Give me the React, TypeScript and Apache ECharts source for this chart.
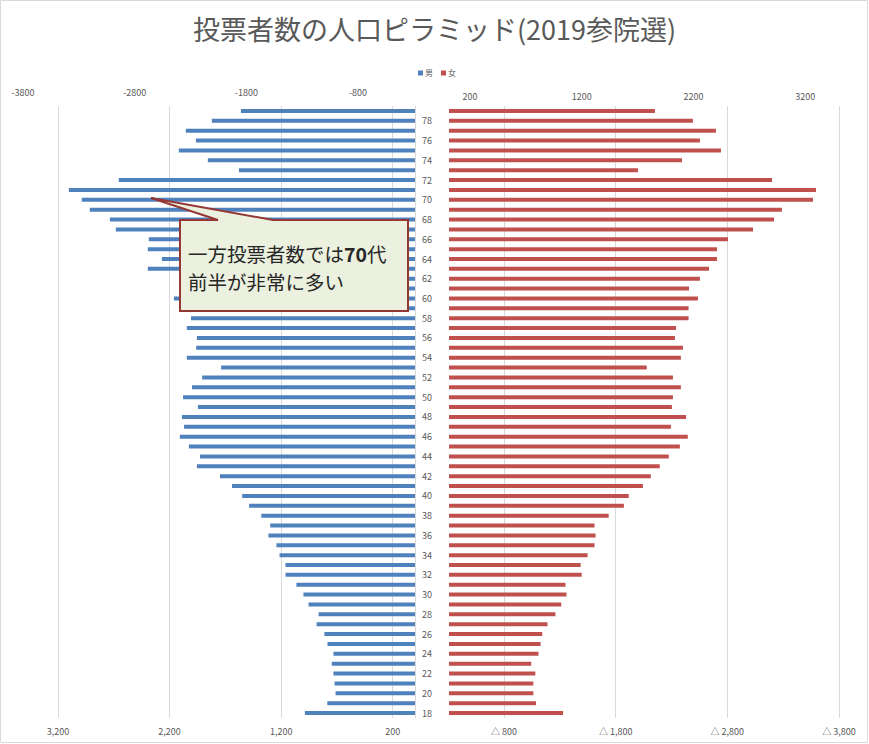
import React, { useEffect, useRef } from 'react';
import * as echarts from 'echarts';

const FONT = '"Noto Sans CJK JP", "Noto Sans", sans-serif';

const ages = [
  '18', '19', '20', '21', '22', '23', '24', '25', '26', '27',
  '28', '29', '30', '31', '32', '33', '34', '35', '36', '37',
  '38', '39', '40', '41', '42', '43', '44', '45', '46', '47',
  '48', '49', '50', '51', '52', '53', '54', '55', '56', '57',
  '58', '59', '60', '61', '62', '63', '64', '65', '66', '67',
  '68', '69', '70', '71', '72', '73', '74', '75', '76', '77',
  '78', '79',
];

const maleVoters = [
  987, 786, 712, 721, 731, 746, 731, 784, 812, 882,
  864, 954, 1000, 1063, 1161, 1161, 1214, 1242, 1314, 1298,
  1378, 1487, 1549, 1640, 1748, 1955, 1927, 2027, 2108, 2070,
  2089, 1946, 2079, 1999, 1908, 1738, 2045, 1961, 1955, 2045,
  2008, 2040, 2161, 2000, 2080, 2395, 2269, 2395, 2386, 2682,
  2735, 2915, 2987, 3103, 2655, 1578, 1857, 2117, 1964, 2054,
  1821, 1560,
];

const femaleVoters = [
  1021, 779, 755, 755, 773, 736, 801, 820, 835, 882,
  953, 1005, 1052, 1043, 1188, 1179, 1241, 1303, 1312, 1303,
  1430, 1566, 1609, 1736, 1807, 1887, 1968, 2067, 2138, 1987,
  2123, 1996, 2005, 2076, 2005, 1770, 2076, 2095, 2023, 2033,
  2145, 2145, 2229, 2149, 2247, 2328, 2399, 2399, 2498, 2722,
  2910, 2981, 3259, 3286, 2892, 1692, 2086, 2435, 2247, 2390,
  2184, 1844,
];

const seriesNames = ['男', '女'];
const titleText = '投票者数の人口ピラミッド(2019参院選)';
const noteLine1 = '一方投票者数では{b|70}代';
const noteLine2 = '前半が非常に多い';

const LABEL_COLOR = '#595959';
const GRID_COLOR = '#D9D9D9';

const grid = (left: number, width: number) => ({
  left,
  top: 106,
  width,
  height: 612,
  containLabel: false,
  outerBoundsMode: 'none',
});

const hiddenY = (gridIndex: number) => ({
  gridIndex,
  type: 'category',
  data: ages,
  show: false,
});

const labelAxisBase = {
  type: 'value',
  interval: 1000,
  axisLine: { show: false },
  axisTick: { show: false },
};

export default function App() {
  const ref = useRef<HTMLDivElement>(null);

  useEffect(() => {
    if (!ref.current) return;
    const chart = echarts.init(ref.current, null, { renderer: 'svg' });
    const option: any = {
      animation: false,
      backgroundColor: '#ffffff',
      textStyle: { fontFamily: FONT },
      title: {
        text: titleText,
        left: 'center',
        top: 10,
        textStyle: { fontSize: 27, fontWeight: 'normal', color: LABEL_COLOR, fontFamily: FONT },
      },
      legend: {
        data: seriesNames,
        left: 413,
        top: 64,
        icon: 'rect',
        itemWidth: 5,
        itemHeight: 5,
        itemGap: 8,
        textStyle: { fontSize: 8, color: LABEL_COLOR, fontFamily: FONT, padding: [0, 0, 0, -3] },
      },
      grid: [grid(58, 357), grid(58, 357), grid(449, 390), grid(449, 390), grid(23, 392), grid(470, 369)],
      xAxis: [
        { gridIndex: 0, type: 'value', inverse: true, min: 0, max: 3200, show: false },
        {
          ...labelAxisBase,
          gridIndex: 1,
          position: 'bottom',
          min: 0,
          max: 3200,
          splitLine: { show: true, showMaxLine: false, lineStyle: { color: GRID_COLOR, width: 1 } },
          axisLabel: {
            formatter: (q: number) => (3200 - q).toLocaleString('en-US'),
            showMaxLabel: false,
            fontSize: 9,
            color: LABEL_COLOR,
            margin: 9,
          },
        },
        { gridIndex: 2, type: 'value', min: 0, max: 3492, show: false },
        {
          ...labelAxisBase,
          gridIndex: 3,
          position: 'bottom',
          inverse: true,
          min: 0,
          max: 3492,
          splitLine: { show: true, showMaxLine: false, lineStyle: { color: GRID_COLOR, width: 1 } },
          axisLabel: {
            formatter: (q: number) => '△ ' + (3800 - q).toLocaleString('en-US'),
            showMaxLabel: false,
            fontSize: 9,
            color: LABEL_COLOR,
            margin: 9,
          },
        },
        {
          ...labelAxisBase,
          gridIndex: 4,
          position: 'top',
          min: 0,
          max: 3510,
          splitLine: { show: false },
          axisLabel: {
            formatter: (q: number) => String(q - 3800),
            showMaxLabel: false,
            fontSize: 9,
            color: LABEL_COLOR,
            margin: 9,
          },
        },
        {
          ...labelAxisBase,
          gridIndex: 5,
          position: 'top',
          min: 0,
          max: 3303,
          splitLine: { show: false },
          axisLabel: {
            formatter: (q: number) => String(q + 200),
            showMaxLabel: false,
            fontSize: 9,
            color: LABEL_COLOR,
            margin: 5,
          },
        },
      ],
      yAxis: [
        {
          gridIndex: 0,
          type: 'category',
          data: ages,
          position: 'right',
          axisLine: { show: true, onZero: false, lineStyle: { color: GRID_COLOR, width: 1 } },
          axisTick: { show: false },
          splitLine: { show: false },
          axisLabel: { interval: 1, fontSize: 9, color: LABEL_COLOR, margin: 7 },
        },
        hiddenY(1),
        hiddenY(2),
        hiddenY(3),
        hiddenY(4),
        hiddenY(5),
      ],
      series: [
        {
          name: seriesNames[0],
          type: 'bar',
          xAxisIndex: 0,
          yAxisIndex: 0,
          data: maleVoters,
          barWidth: 4,
          itemStyle: { color: '#4F81BD' },
        },
        {
          name: seriesNames[1],
          type: 'bar',
          xAxisIndex: 2,
          yAxisIndex: 2,
          data: femaleVoters,
          barWidth: 4,
          itemStyle: { color: '#C0504D' },
        },
      ],
      graphic: [
        {
          type: 'rect',
          z: 100,
          shape: { x: 0.5, y: 0.5, width: 867, height: 742 },
          style: { fill: 'none', stroke: GRID_COLOR, lineWidth: 1 },
        },
        {
          type: 'polygon',
          z: 100,
          shape: {
            points: [
              [180, 220], [218, 220], [151, 198], [273, 220],
              [408, 220], [408, 311], [180, 311],
            ],
          },
          style: { fill: '#EBF1DE', stroke: '#953735', lineWidth: 2 },
        },
        {
          type: 'text',
          z: 101,
          x: 188,
          y: 253,
          style: {
            text: noteLine1,
            fontSize: 19.5,
            fontFamily: FONT,
            fill: '#262626',
            verticalAlign: 'middle',
            rich: { b: { fontWeight: 'bold', fontSize: 19.5, fontFamily: FONT, fill: '#262626' } },
          },
        },
        {
          type: 'text',
          z: 101,
          x: 188,
          y: 281,
          style: {
            text: noteLine2,
            fontSize: 19.5,
            fontFamily: FONT,
            fill: '#262626',
            verticalAlign: 'middle',
          },
        },
      ],
    };
    chart.setOption(option);
    return () => chart.dispose();
  }, []);

  return (
    <div
      ref={ref}
      style={{ position: 'fixed', left: 0, top: 0, width: 869, height: 744 }}
    />
  );
}
